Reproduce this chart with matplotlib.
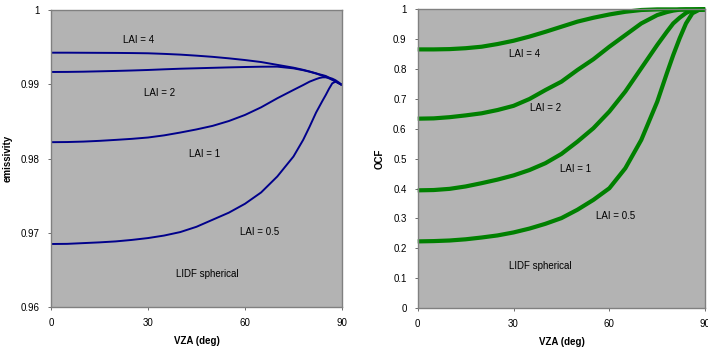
import matplotlib
matplotlib.use("Agg")
import matplotlib.pyplot as plt
import numpy as np

plt.rcParams["font.family"] = ["Liberation Sans", "DejaVu Sans"]

# view zenith angles (deg) at which the curves are sampled
VZA_EMIS = [0, 5, 10, 15, 20, 25, 30, 35, 40, 45, 50, 55, 60, 65, 70, 75, 78, 80, 82, 83, 84, 85, 86, 87, 88, 89, 90]
EMIS_LAI4 = [0.99426, 0.99426, 0.99425, 0.99424, 0.99423, 0.99421, 0.99418, 0.99410, 0.99400, 0.99386,
             0.99370, 0.99350, 0.99327, 0.99300, 0.99262, 0.99224,
             0.99195, 0.99172, 0.99148, 0.99135, 0.99124, 0.99112, 0.99090, 0.99065, 0.99040, 0.99015, 0.98991]
EMIS_LAI2 = [0.99166, 0.99167, 0.99170, 0.99175, 0.99180, 0.99186, 0.99193, 0.99202, 0.99210, 0.99216,
             0.99222, 0.99228, 0.99233, 0.99237, 0.99238, 0.99215,
             0.99190, 0.99170, 0.99145, 0.99130, 0.99115, 0.99100, 0.99080, 0.99060, 0.99040, 0.99015, 0.98991]
EMIS_LAI1 = [0.98220, 0.98222, 0.98228, 0.98238, 0.98251, 0.98265, 0.98283, 0.98312, 0.98350, 0.98392,
             0.98440, 0.98505, 0.98587, 0.98690, 0.98812, 0.98924,
             0.98990, 0.99036, 0.99070, 0.99085, 0.99094, 0.99094, 0.99088, 0.99076, 0.99055, 0.99025, 0.98991]
EMIS_LAI05 = [0.96848, 0.96850, 0.96860, 0.96870, 0.96883, 0.96903, 0.96928, 0.96962, 0.97009, 0.97080,
              0.97175, 0.97270, 0.97390, 0.97543, 0.97758, 0.98027,
              0.98251, 0.98430, 0.98620, 0.98700, 0.98780, 0.98857, 0.98940, 0.99013, 0.99036, 0.99015, 0.98991]

VZA_OCF = [0, 5, 10, 15, 20, 25, 30, 35, 40, 45, 50, 55, 60, 65, 70, 75, 78, 80, 82, 84, 86, 88, 90]
OCF_LAI4 = [0.866, 0.866, 0.867, 0.870, 0.875, 0.884, 0.895, 0.909, 0.925, 0.942, 0.959, 0.972, 0.983,
            0.992, 0.998, 1.0, 1.0, 1.0, 1.0, 1.0, 1.0, 1.0, 1.0]
OCF_LAI2 = [0.634, 0.635, 0.639, 0.645, 0.652, 0.663, 0.677, 0.700, 0.730, 0.758, 0.797, 0.833, 0.875,
            0.914, 0.953, 0.981, 0.991, 0.996, 0.999, 1.0, 1.0, 1.0, 1.0]
OCF_LAI1 = [0.394, 0.395, 0.399, 0.407, 0.418, 0.430, 0.444, 0.462, 0.485, 0.516, 0.557, 0.602, 0.658,
            0.725, 0.803, 0.881, 0.925, 0.953, 0.972, 0.988, 0.998, 1.0, 1.0]
OCF_LAI05 = [0.223, 0.224, 0.226, 0.230, 0.236, 0.243, 0.253, 0.266, 0.282, 0.301, 0.329, 0.362, 0.401,
             0.468, 0.563, 0.691, 0.786, 0.847, 0.903, 0.953, 0.987, 0.998, 1.0]

LAI_LABELS = ["LAI = 4", "LAI = 2", "LAI = 1", "LAI = 0.5"]
EMIS_LABEL_POS = [(27, 0.99596), (33.7, 0.98879), (47.4, 0.98063), (64.5, 0.9701)]
OCF_LABEL_POS = [(33.4, 0.851), (40.1, 0.669), (49.3, 0.466), (62.1, 0.307)]

BG = "#b3b3b3"
FS = 7

fig = plt.figure(figsize=(7.08, 3.48), dpi=100)
ax1 = fig.add_axes([0.072, 0.118, 0.411, 0.853])
ax2 = fig.add_axes([0.590, 0.115, 0.406, 0.858])

for ax in (ax1, ax2):
    ax.set_facecolor(BG)
    for s in ax.spines.values():
        s.set_color("#808080")
        s.set_linewidth(1.0)
    ax.set_xlim(0, 90)
    ax.set_xticks([0, 30, 60, 90])
    ax.tick_params(labelsize=FS, length=2, width=0.6, color="#555555", pad=6)
    ax.set_xlabel("VZA (deg)", fontsize=FS, fontweight="bold", labelpad=6)

# emissivity panel
for y in (EMIS_LAI4, EMIS_LAI2, EMIS_LAI1, EMIS_LAI05):
    ax1.plot(VZA_EMIS, y, color="#00008b", lw=1.4, solid_capstyle="butt")
ax1.set_ylim(0.96, 1.0)
ax1.set_yticks([0.96, 0.97, 0.98, 0.99, 1.0])
ax1.set_yticklabels(["0.96", "0.97", "0.98", "0.99", "1"])
ax1.set_ylabel("emissivity", fontsize=FS, fontweight="bold", labelpad=6)
for lab, (x, y) in zip(LAI_LABELS, EMIS_LABEL_POS):
    ax1.text(x, y, lab, fontsize=FS, ha="center", va="center")
ax1.text(48.2, 0.9645, "LIDF spherical", fontsize=FS, ha="center", va="center")

# OCF panel
for y in (OCF_LAI4, OCF_LAI2, OCF_LAI1, OCF_LAI05):
    ax2.plot(VZA_OCF, y, color="#008000", lw=3.0, solid_capstyle="butt", clip_on=False)
ax2.set_ylim(0, 1.0)
ax2.set_yticks(np.arange(0, 1.01, 0.1))
ax2.set_yticklabels(["0", "0.1", "0.2", "0.3", "0.4", "0.5", "0.6", "0.7", "0.8", "0.9", "1"])
ax2.set_ylabel("OCF", fontsize=FS, fontweight="bold", labelpad=6)
for lab, (x, y) in zip(LAI_LABELS, OCF_LABEL_POS):
    ax2.text(x, y, lab, fontsize=FS, ha="center", va="center")
ax2.text(38.3, 0.142, "LIDF spherical", fontsize=FS, ha="center", va="center")

fig.savefig("out.png", dpi=100)
